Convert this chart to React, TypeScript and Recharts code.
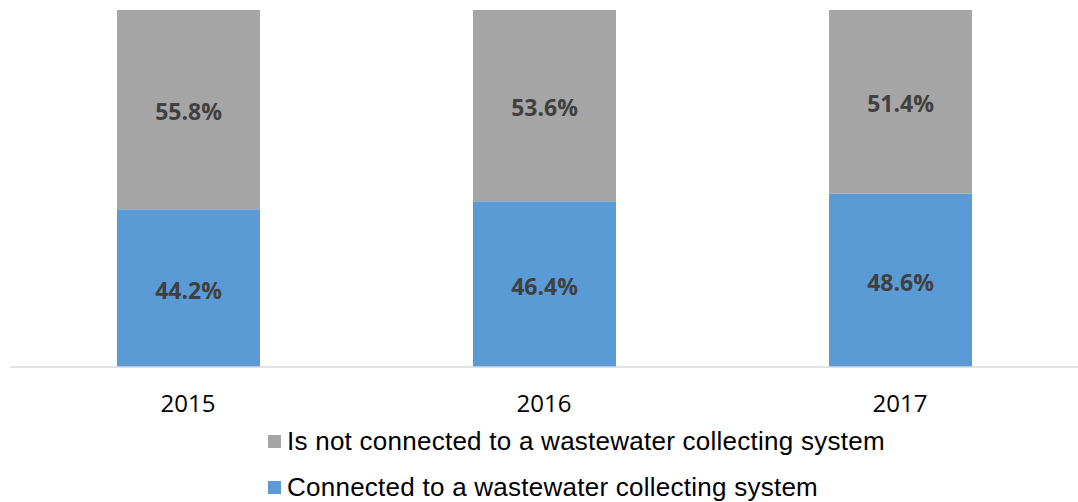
import React from "react";
import { BarChart, Bar, XAxis, YAxis, LabelList } from "recharts";

const years = ["2015", "2016", "2017"];
const connected = [44.2, 46.4, 48.6];
const notConnected = [55.8, 53.6, 51.4];

const seriesNames = {
  connected: "Connected to a wastewater collecting system",
  notConnected: "Is not connected to a wastewater collecting system",
};

const COLORS = { connected: "#5B9BD5", notConnected: "#A5A5A5" };

const data = years.map((year, i) => ({
  year,
  connected: connected[i],
  notConnected: notConnected[i],
}));

const legendItems = [
  { key: "notConnected", name: seriesNames.notConnected, color: COLORS.notConnected },
  { key: "connected", name: seriesNames.connected, color: COLORS.connected },
];

const labelStyle = {
  fill: "#404040",
  fontSize: 23,
  fontWeight: 700,
  fontFamily: "'Open Sans', sans-serif",
};

const fmt = (v: number) => `${v.toFixed(1)}%`;

export default function App() {
  return (
    <div style={{ position: "absolute", left: 0, top: 0, width: 1078, height: 502, background: "#fff" }}>
      <BarChart
        width={1078}
        height={502}
        data={data}
        margin={{ top: 10, right: 0, bottom: 0, left: 10 }}
      >
        <XAxis
          dataKey="year"
          height={135}
          axisLine={{ stroke: "#d9d9d9", strokeWidth: 1.5 }}
          tickLine={false}
          tickMargin={22}
          tick={{ fill: "#000", fontSize: 24, fontFamily: "'Open Sans', sans-serif" }}
        />
        <YAxis hide domain={[0, 100]} />
        <Bar dataKey="connected" stackId="a" fill={COLORS.connected} barSize={143} isAnimationActive={false}>
          <LabelList dataKey="connected" position="center" formatter={fmt} style={labelStyle} dy={3} />
        </Bar>
        <Bar dataKey="notConnected" stackId="a" fill={COLORS.notConnected} barSize={143} isAnimationActive={false}>
          <LabelList dataKey="notConnected" position="center" formatter={fmt} style={labelStyle} dy={2} />
        </Bar>
      </BarChart>
      <div
        style={{
          position: "absolute",
          left: 268,
          top: 424,
          fontFamily: "'Liberation Sans', Arial, sans-serif",
          fontSize: 26,
          letterSpacing: 0.25,
          color: "#000",
        }}
      >
        {legendItems.map((item) => (
          <div key={item.key} style={{ display: "flex", alignItems: "center", height: 34, marginBottom: 12 }}>
            <div style={{ width: 13, height: 13, background: item.color, marginRight: 6 }} />
            <span>{item.name}</span>
          </div>
        ))}
      </div>
    </div>
  );
}
